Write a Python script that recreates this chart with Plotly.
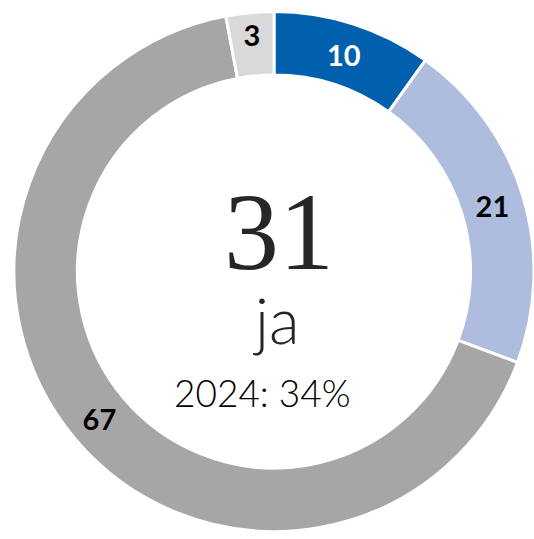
import plotly.graph_objects as go

# Data
categories = ["A", "B", "C", "D"]
values = [10, 21, 67, 3]
colors = ["#0060AE", "#AEBDDD", "#A6A6A6", "#D9D9D9"]
label_colors = ["white", "black", "black", "black"]
center_value = "31"
center_label = "ja"
center_sub = "2024: 34%"

W, H = 534, 539

fig = go.Figure(go.Pie(
    labels=categories,
    values=values,
    sort=False,
    direction="clockwise",
    rotation=0,
    hole=0.756,
    marker=dict(colors=colors, line=dict(color="white", width=3)),
    texttemplate="%{value}",
    textposition="inside",
    insidetextorientation="horizontal",
    textfont=dict(family="Lato", size=29, color=label_colors, weight="bold"),
    domain=dict(x=[14 / W, 1.0], y=[7.5 / H, 527.5 / H]),
    showlegend=False,
    hoverinfo="skip",
))

def px(x, y):
    return x / W, 1 - y / H

annots = [
    (center_value, 279, 232, dict(family="Liberation Serif", size=110, color="#262626")),
    (center_label, 276, 319, dict(family="Lato", size=63, color="#262626", weight=300)),
    (center_sub, 262, 392, dict(family="Lato", size=37, color="#000000", weight=300)),
]
for text, x, y, font in annots:
    ax, ay = px(x, y)
    fig.add_annotation(text=text, x=ax, y=ay, xref="paper", yref="paper",
                       xanchor="center", yanchor="middle", showarrow=False, font=font)

fig.update_layout(
    width=W, height=H,
    margin=dict(l=0, r=0, t=0, b=0),
    paper_bgcolor="white", plot_bgcolor="white",
    uniformtext=dict(minsize=29, mode="show"),
)

fig.write_html("out.html", config={"displayModeBar": False},
               post_script="document.body.style.margin='0';")
